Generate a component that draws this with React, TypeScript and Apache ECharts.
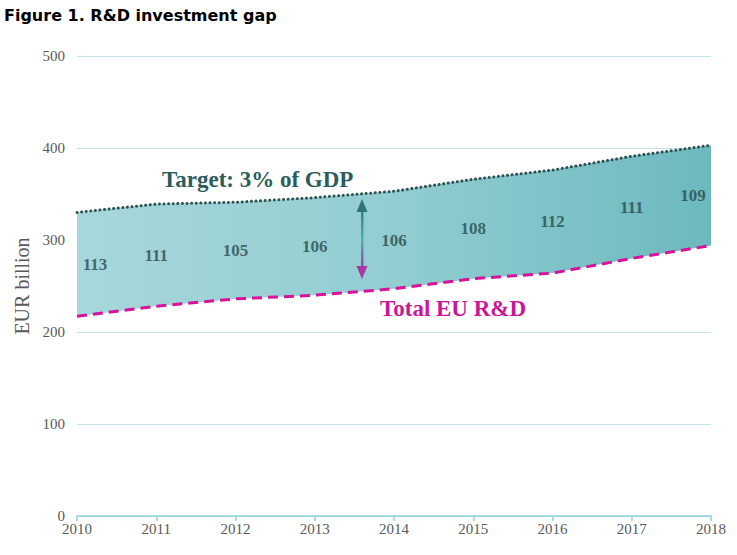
import React, { useEffect, useRef } from "react";
import * as echarts from "echarts";

const years = ["2010", "2011", "2012", "2013", "2014", "2015", "2016", "2017", "2018"];
const totalRD = [217, 228, 236, 240, 247, 258, 264, 280, 294];
const target3 = [330, 339, 341, 346, 353, 366, 376, 391, 403];
const gapLabels = [113, 111, 105, 106, 106, 108, 112, 111, 109];

const SERIF = "'Liberation Serif', 'DejaVu Serif', serif";

export default function App() {
  const ref = useRef<HTMLDivElement>(null);
  useEffect(() => {
    const chart = echarts.init(ref.current!, null, { renderer: "svg" });
    const gap = target3.map((t, i) => t - totalRD[i]);
    const mid = target3.map((t, i) => (t + totalRD[i]) / 2);
    chart.setOption({
      animation: false,
      title: {
        text: "Figure 1. R&D investment gap",
        left: 4,
        top: 7,
        padding: 0,
        textStyle: { fontFamily: "'DejaVu Sans', sans-serif", fontWeight: "bold", fontSize: 16, color: "#000" },
      },
      grid: { left: 77, right: 26, top: 56, bottom: 39 },
      xAxis: {
        type: "category",
        data: years,
        boundaryGap: false,
        axisLine: { lineStyle: { color: "#8fd3da", width: 1.5 } },
        axisTick: { show: true, length: 5, lineStyle: { color: "#8fd3da", width: 1.5 } },
        axisLabel: { fontFamily: SERIF, fontSize: 15, color: "#595959", margin: 5 },
        splitLine: { show: false },
      },
      yAxis: {
        type: "value",
        min: 0,
        max: 500,
        interval: 100,
        name: "EUR billion",
        nameLocation: "middle",
        nameGap: 42,
        nameTextStyle: { fontFamily: SERIF, fontSize: 20, color: "#595959" },
        axisLine: { show: false },
        axisTick: { show: false },
        axisLabel: { fontFamily: SERIF, fontSize: 15, color: "#595959", margin: 12 },
        splitLine: { lineStyle: { color: "#bfe6ea", width: 1 } },
      },
      series: [
        {
          name: "base",
          type: "line",
          data: totalRD,
          stack: "a",
          symbol: "none",
          lineStyle: { width: 0 },
          areaStyle: { opacity: 0 },
          z: 1,
        },
        {
          name: "gap",
          type: "line",
          data: gap,
          stack: "a",
          symbol: "none",
          lineStyle: { width: 0 },
          areaStyle: {
            opacity: 1,
            color: new echarts.graphic.LinearGradient(0, 0, 1, 0, [
              { offset: 0, color: "#a7d7db" },
              { offset: 0.5, color: "#92cdd1" },
              { offset: 1, color: "#6cb9be" },
            ]),
          },
          z: 2,
        },
        {
          name: "Target: 3% of GDP",
          type: "line",
          data: target3,
          symbol: "none",
          lineStyle: { color: "#2f5253", width: 3, type: [0.1, 4.5], cap: "round" },
          z: 5,
        },
        {
          name: "Total EU R&D",
          type: "line",
          data: totalRD,
          symbol: "none",
          lineStyle: { color: "#d7139c", width: 3, type: [10, 6] },
          z: 5,
        },
        {
          name: "labels",
          type: "scatter",
          data: mid.map((m, i) => ({
            value: [i, m],
            label: {
              offset: i === 0 ? [18, 0] : i === years.length - 1 ? [-18, 0] : [0, 0],
            },
          })),
          symbol: "circle",
          symbolSize: 1,
          itemStyle: { color: "rgba(0,0,0,0)" },
          silent: true,
          label: {
            show: true,
            position: "inside",
            formatter: (p: any) => String(gapLabels[p.dataIndex]),
            fontFamily: SERIF,
            fontWeight: "bold",
            fontSize: 17,
            color: "#27494b",
          },
          z: 6,
        },
      ],
      graphic: [
        {
          type: "text",
          left: 162,
          top: 168,
          style: {
            text: "Target: 3% of GDP",
            fontFamily: SERIF,
            fontWeight: "bold",
            fontSize: 23,
            fill: "#2c5d5e",
          },
        },
        {
          type: "text",
          left: 380,
          top: 297,
          style: {
            text: "Total EU R&D",
            fontFamily: SERIF,
            fontWeight: "bold",
            fontSize: 23,
            fill: "#cc1699",
          },
        },
        {
          type: "rect",
          shape: { x: 361, y: 208, width: 2.5, height: 62 },
          style: {
            fill: new echarts.graphic.LinearGradient(0, 0, 0, 1, [
              { offset: 0, color: "#2d7b7e" },
              { offset: 0.5, color: "#4fb0b5" },
              { offset: 1, color: "#a43c9e" },
            ]),
          },
          z: 10,
        },
        {
          type: "polygon",
          shape: { points: [[362, 199], [356.5, 212], [367.5, 212]] },
          style: { fill: "#2d7579" },
          z: 10,
        },
        {
          type: "polygon",
          shape: { points: [[362, 279], [356.5, 266], [367.5, 266]] },
          style: { fill: "#a8379f" },
          z: 10,
        },
      ],
    });
    return () => chart.dispose();
  }, []);
  return (
    <div
      ref={ref}
      style={{ position: "absolute", left: 0, top: 0, width: 737, height: 555, background: "#fff" }}
    />
  );
}
